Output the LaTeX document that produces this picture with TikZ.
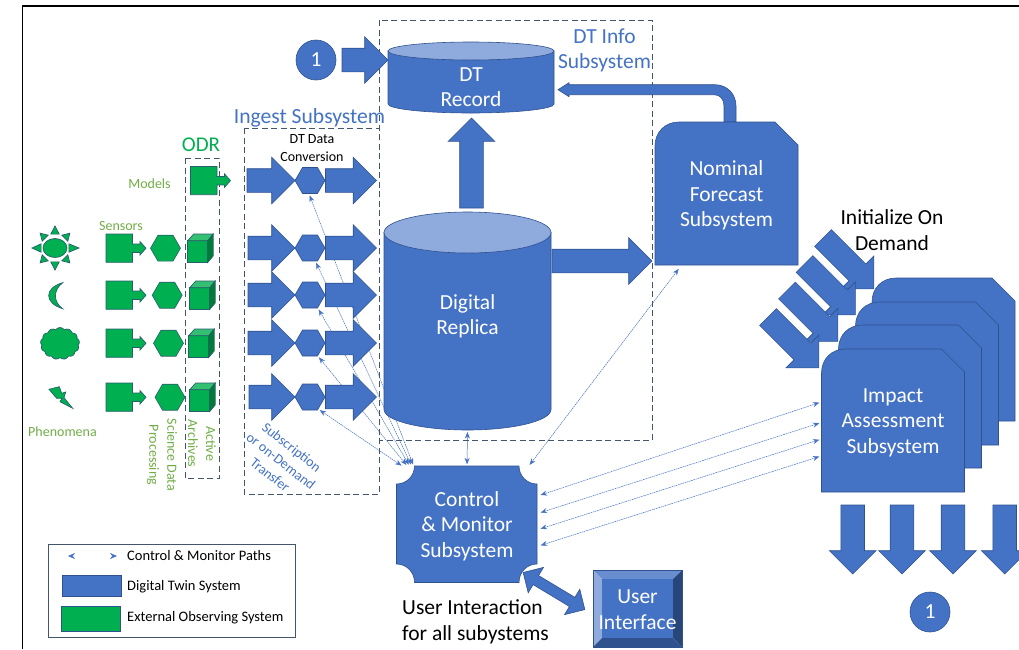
\documentclass[tikz,border=0pt]{standalone}
\usepackage{fontspec}
\setmainfont{Carlito}
\usetikzlibrary{arrows.meta,backgrounds,shapes.arrows,shapes.geometric,shapes.symbols}
\definecolor{dtblue}{HTML}{4472C4}
\definecolor{dtline}{HTML}{2F528F}
\definecolor{dtlight}{HTML}{8FAADC}
\definecolor{odrgreen}{HTML}{00B050}
\definecolor{odrline}{HTML}{27606B}
\definecolor{labelgreen}{HTML}{70AD47}
\definecolor{dashgray}{HTML}{44546A}
\tikzset{
  dtshape/.style={fill=dtblue, draw=dtline, line width=0.6pt},
  odrshape/.style={fill=odrgreen, draw=odrline, line width=0.7pt},
  block/.style={single arrow, dtshape, inner xsep=0pt, inner ysep=11.5pt, outer sep=0pt, anchor=tail,
    single arrow head extend=11.5pt},
  hexa/.style={regular polygon, regular polygon sides=6, dtshape, inner sep=0pt, outer sep=0pt, minimum size=30pt},
  bigtext/.style={font=\fontsize{21.5}{25.5}\selectfont, align=center, text=white, inner sep=0pt, yshift=-2pt},
  darktext/.style={font=\fontsize{21.5}{25.5}\selectfont, align=center, text=black, inner sep=0pt},
  greenlabel/.style={font=\fontsize{14}{18}\selectfont, text=labelgreen, align=center, inner sep=0pt},
  dashbox/.style={draw=dashgray, dashed, dash pattern=on 6pt off 3.5pt, line width=0.8pt},
  ctrlpath/.style={draw=dtblue, line width=0.5pt, dash pattern=on 1.6pt off 0.7pt, shorten <=2pt, shorten >=3pt,
    {Stealth[length=6.5pt,width=5pt]}-{Stealth[length=6.5pt,width=5pt]}},
  sensorbox/.pic={\draw[odrshape] (0,0) -- (26.5,0) -- (26.5,10) -- (34,10) -- (34,7.5) -- (40,14.2) -- (34,21) -- (34,18.5) -- (26.5,18.5) -- (26.5,28.3) -- (0,28.3) -- cycle;},
  cubebox/.pic={
    \draw[odrshape] (0,6.7) rectangle (20,28.5);
    \draw[odrshape, fill=odrgreen!80!white] (0,6.7) -- (6,0) -- (25.5,0) -- (20,6.7) -- cycle;
    \draw[odrshape, fill=odrgreen!70!black] (20,6.7) -- (25.5,0) -- (25.5,22) -- (20,28.5) -- cycle;}
}
\newcommand{\snipbox}[4]{
  \begin{scope}[shift={(#2,#3)}]
    \draw[dtshape] (0,143) -- (0,24) .. controls (0,10) and (10,0) .. (24,0) -- (120,0) -- (143,23) -- (143,143) -- cycle;
    \node[bigtext, minimum width=143pt, minimum height=143pt] (#1) at (71.5,71.5) {#4};
  \end{scope}
}
% name, centre x, top y, x radius, y radius, bottom y
\newcommand{\dtcyl}[6]{
  \begin{scope}[shift={(#2,0)}]
    \draw[dtshape] (-#4,#3) -- (-#4,#6) .. controls (-#4,#6+0.55*#5) and (-0.55*#4,#6+#5) .. (0,#6+#5)
        .. controls (0.55*#4,#6+#5) and (#4,#6+0.55*#5) .. (#4,#6) -- (#4,#3) -- cycle;
    \draw[dtline, fill=dtlight, line width=0.6pt] (0,#3) ellipse [x radius=#4, y radius=#5];
    \pgfmathsetlengthmacro{\cylw}{2*#4}
    \pgfmathsetlengthmacro{\cylh}{#6-#3+2*#5}
    \node[minimum width=\cylw, minimum height=\cylh, inner sep=0pt, outer sep=0pt] (#1) at (0,{(#3+#6)/2}) {};
  \end{scope}
}
\begin{document}
\begin{tikzpicture}[x=1pt, y=-1pt]
\useasboundingbox (0,0) rectangle (1019,649);
% frame
\draw[black, line width=1.6pt] (22.5,649) -- (22.5,6) -- (1019,6);
% dashed groups
\draw[dashbox] (379,20) rectangle (652,440);
\draw[dashbox] (244,128) rectangle (379,494);
\draw[dashbox] (185,158) rectangle (219.5,478);
% phenomena
\node[ellipse, odrshape, minimum width=24pt, minimum height=19pt, inner sep=0pt] (sun) at (55,248) {};
\foreach \a/\r in {0/24, 90/22, 180/23, 270/22, 45/21, 135/21, 225/21, 315/21}
    \draw[odrshape, shift={(55,248)}] (\a-17:14.5) -- (\a:\r) -- (\a+17:14.5) -- cycle;
\draw[odrshape] (62.7,282.7) .. controls (44,288) and (44,303) .. (62.7,308.7) .. controls (53,302) and (53,290) .. cycle;
\node[cloud, odrshape, cloud puffs=13, cloud puff arc=110, aspect=1.2, minimum width=39pt, minimum height=32pt, inner sep=0pt] (cloudy) at (60,343.5) {};
\draw[odrshape] (49,389.3) -- (59.3,386.7) -- (61.7,393.3) -- (65.7,392) -- (64,397.7) -- (72.7,408.3) -- (60,401.7) -- (62,398.3) -- (56.7,398.3) -- cycle;
% observing chain
\foreach \n/\y/\hx/\cx/\cy in {2/234/165.5/187.7/234, 3/281/167.2/189.7/281, 4/329/168.5/188.7/329, 5/383/170/189.7/383} {
    \path (106,\y) pic {sensorbox};
    \node[hexa, fill=odrgreen, draw=odrline] (g\n) at (\hx,\y+14.2) {};
    \path (\cx,\cy) pic {cubebox};
}
\path (190.5,166.4) pic {sensorbox};
% ingest rows
\foreach \n/\x/\y in {1/247/180.5, 2/248/248, 3/248/295, 4/248/343, 5/249/397} {
    \pgfmathsetlengthmacro{\w}{295-\x}
    \node[block, minimum height=\w] (ra\n) at (\x,\y) {};
    \node[block, minimum height=51pt] (rb\n) at (325.5,\y) {};
    \node[hexa] (h\n) at (310,\y) {};
}
% record and replica
\node[circle, dtshape, minimum size=40pt, inner sep=0pt, text=white, font=\fontsize{21.5}{25.5}\selectfont] (one) at (316,60) {1};
\node[block, minimum height=46pt] (inrec) at (342,60) {};
\dtcyl{rec}{471}{51}{83}{9}{104}
\node[bigtext] (lrec) at (471,85) {DT\\Record};
\node[block, rotate=90, minimum height=90pt] (uprec) at (471.5,208) {};
\dtcyl{dr}{467.5}{232.5}{83.5}{20.5}{409.5}
\node[bigtext] (ldr) at (467.5,314.5) {Digital\\Replica};
\node[block, minimum height=100pt] (tonom) at (552,261) {};
% forecast feedback
\draw[dtshape] (558,89.7) -- (569,82.7) -- (569,84.7) -- (715,84.7) .. controls (727,84.7) and (736,94) .. (736,106) -- (736,122)
    -- (724,122) -- (724,106) .. controls (724,99) and (720,94.7) .. (714,94.7) -- (569,94.7) -- (569,96.7) -- cycle;
\snipbox{nom}{655}{122}{Nominal\\Forecast\\Subsystem}
% impact stack
\foreach \n/\x/\y in {1/823/238, 2/804.5/264, 3/787/290.5, 4/768/317}
    \node[block, rotate=-45, minimum height=72pt] (ia\n) at (\x,\y) {};
\snipbox{imp4}{872}{278}{}
\snipbox{imp3}{855.5}{302}{}
\snipbox{imp2}{838.5}{325}{}
\snipbox{imp}{821.5}{349}{Impact\\Assessment\\Subsystem}
\foreach \n/\x in {1/852.7, 2/902, 3/953, 4/1004.7}
    \node[block, rotate=-90, minimum height=69pt] (down\n) at (\x,505) {};
\node[circle, dtshape, minimum size=40pt, inner sep=0pt, text=white, font=\fontsize{21.5}{25.5}\selectfont] (two) at (930,612) {1};
% control
\draw[dtshape] (414.5,466) -- (519,466) .. controls (519,476) and (527,484) .. (537,484) -- (537,564) .. controls (527,564) and (519,572) .. (519,582.5)
    -- (414.5,582.5) .. controls (414.5,572) and (406.5,564) .. (396.5,564) -- (396.5,484) .. controls (406.5,484) and (414.5,476) .. (414.5,466) -- cycle;
\node[bigtext, minimum width=141pt, minimum height=117pt] (cm) at (467,524) {Control\\\& Monitor\\Subsystem};
\node[double arrow, dtshape, inner xsep=0pt, inner ysep=5pt, outer sep=0pt, rotate=-31, minimum height=72pt, double arrow head extend=9.5pt] (ctrlui) at (554,591) {};
% user interface
\draw[fill=dtblue!80!white, draw=none] (593,570) -- (682.5,570) -- (673,579) -- (602,579) -- cycle;
\draw[fill=dtlight, draw=none] (593,570) -- (602,579) -- (602,638) -- (593,647) -- cycle;
\draw[fill=dtline!85!black, draw=none] (682.5,570) -- (682.5,647) -- (673,638) -- (673,579) -- cycle;
\draw[fill=dtline, draw=none] (593,647) -- (602,638) -- (673,638) -- (682.5,647) -- cycle;
\fill[dtblue] (602,579) rectangle (673,638);
\draw[dtline, line width=0.6pt] (593,570) rectangle (682.5,647);
\node[bigtext] (ui) at (637.5,607.5) {User\\Interface};
% control and monitor paths
\begin{scope}[on background layer]
\foreach \from/\to in {h1.-95/cm.132, h2.-68/cm.133, h3.-59/cm.134, h4.-59/cm.135, h5.-56/cm.137, nom.-123/cm.44, imp.164/cm.23, imp.180/cm.10.4, imp.193.4/cm.-3.2, imp.205.8/cm.-16.6}
    \draw[ctrlpath] (\from) -- (\to);
\draw[ctrlpath, solid] (dr.south) -- (cm.north);
\end{scope}
% labels
\node[greenlabel] (lmodels) at (149.5,184) {Models};
\node[greenlabel] (lsensors) at (121,226) {Sensors};
\node[greenlabel] (lphen) at (62.5,432) {Phenomena};
\node[greenlabel, rotate=-90] (lproc) at (162,455) {Science Data\\Processing};
\node[greenlabel, rotate=-90] (lactive) at (202,443.5) {Active\\Archives};
\node[font=\fontsize{21}{25}\selectfont, text=odrgreen, inner sep=0pt] (lodr) at (201,145) {ODR};
\node[font=\fontsize{21.6}{25}\selectfont, text=dtblue, inner sep=0pt] (lingest) at (309.5,118) {Ingest Subsystem};
\node[font=\fontsize{14}{18}\selectfont, text=black, align=center, inner sep=0pt] (lconv) at (312,148.5) {DT Data\\Conversion};
\node[font=\fontsize{21.5}{25.5}\selectfont, text=dtblue, align=center, inner sep=0pt] (linfo) at (604.5,50.5) {DT Info\\Subsystem};
\node[font=\fontsize{14}{17.5}\selectfont, text=dtblue, align=center, inner sep=0pt, rotate=-38] (lsub) at (281,461) {Subscription\\or on-Demand\\Transfer};
\node[darktext] (linit) at (892,230) {Initialize On\\Demand};
\node[darktext, align=left, anchor=west] (luser) at (402,622) {User Interaction\\for all subystems};
% legend
\node[draw=dashgray, line width=0.8pt, minimum width=247pt, minimum height=93pt, inner sep=0pt, outer sep=0pt] (legend) at (171.5,591) {};
\coordinate (lga) at (68,556);
\coordinate (lgb) at (117,556);
\draw[white, {Stealth[color=dtblue,length=7pt,width=6pt]}-{Stealth[color=dtblue,length=7pt,width=6pt]}] (lga) -- (lgb);
\node[dtshape, minimum width=59pt, minimum height=21.5pt, inner sep=0pt] (swblue) at (91.3,586) {};
\node[odrshape, draw=dtline, minimum width=59pt, minimum height=25.5pt, inner sep=0pt] (swgreen) at (91.3,619) {};
\foreach \y/\t in {556/Control \& Monitor Paths, 587/Digital Twin System, 618/External Observing System}
    \node[font=\fontsize{14.5}{16}\selectfont, anchor=west, inner sep=0pt] (lg\y) at (127,\y) {\t};
\end{tikzpicture}
\end{document}
